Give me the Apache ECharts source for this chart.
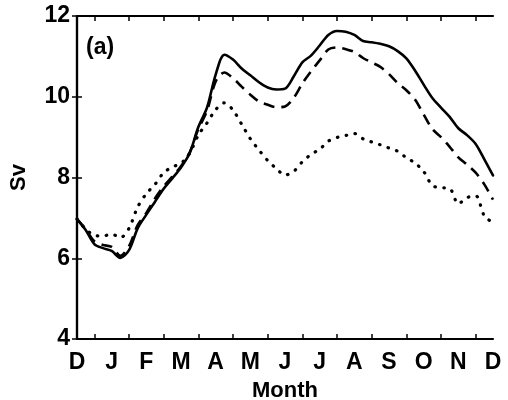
<!DOCTYPE html>
<html>
<head>
<meta charset="utf-8">
<script src="https://cdn.jsdelivr.net/npm/echarts@6/dist/echarts.min.js"></script>
<style>
  html, body { margin: 0; padding: 0; background: #fff; }
  #chart { width: 508px; height: 400px; }
</style>
</head>
<body>
<div id="chart"></div>
<script>
// Month positions (0 = December, 12 = following December), quarter-month steps
const monthPos = [
  0, 0.25, 0.5, 0.75, 1, 1.25, 1.5, 1.75, 2, 2.25, 2.5, 2.75, 3, 3.25, 3.5, 3.75,
  4, 4.25, 4.5, 4.75, 5, 5.25, 5.5, 5.75, 6, 6.25, 6.5, 6.75, 7, 7.25, 7.5, 7.75,
  8, 8.25, 8.5, 8.75, 9, 9.25, 9.5, 9.75, 10, 10.25, 10.5, 10.75, 11, 11.25, 11.5, 11.75, 12
];

// Transport (Sv)
const solidSv = [
  6.97, 6.70, 6.35, 6.25, 6.18, 6.01, 6.20, 6.74, 7.08, 7.40, 7.72, 7.98, 8.25, 8.60, 9.25, 9.73,
  10.55, 11.04, 10.92, 10.70, 10.53, 10.36, 10.23, 10.18, 10.20, 10.50, 10.85, 11.02, 11.27, 11.53, 11.63, 11.61,
  11.53, 11.38, 11.35, 11.31, 11.25, 11.13, 10.95, 10.65, 10.30, 9.97, 9.73, 9.50, 9.22, 9.05, 8.83, 8.45, 8.05
];
const dashedSv = [
  6.97, 6.72, 6.42, 6.33, 6.28, 6.06, 6.30, 6.82, 7.12, 7.48, 7.78, 8.02, 8.28, 8.62, 9.20, 9.65,
  10.38, 10.60, 10.46, 10.25, 10.05, 9.88, 9.80, 9.74, 9.76, 9.97, 10.33, 10.63, 10.90, 11.17, 11.22, 11.18,
  11.11, 10.96, 10.85, 10.74, 10.56, 10.34, 10.16, 9.93, 9.56, 9.20, 9.00, 8.76, 8.50, 8.32, 8.12, 7.83, 7.45
];
const dottedSv = [
  6.97, 6.72, 6.57, 6.55, 6.60, 6.51, 6.74, 7.27, 7.60, 7.83, 8.12, 8.26, 8.35, 8.60, 9.05, 9.35,
  9.68, 9.85, 9.67, 9.32, 8.96, 8.68, 8.42, 8.22, 8.06, 8.15, 8.39, 8.57, 8.70, 8.90, 8.99, 9.04,
  9.09, 8.96, 8.88, 8.81, 8.73, 8.65, 8.49, 8.36, 8.15, 7.80, 7.75, 7.73, 7.35, 7.50, 7.55, 7.05, 6.88
];

const monthLabels = ['D', 'J', 'F', 'M', 'A', 'M', 'J', 'J', 'A', 'S', 'O', 'N', 'D'];
const yTicks = [4, 6, 8, 10, 12];

const FONT = 'Liberation Sans, Arial, sans-serif';
const pair = (vals) => monthPos.map((m, i) => [m, vals[i]]);

const frameLine = { show: true, lineStyle: { color: '#000', width: 2.2 } };
const tickStyle = { color: '#000', width: 1.5 };

const chart = echarts.init(document.getElementById('chart'), null, { renderer: 'canvas' });

chart.setOption({
  animation: false,
  backgroundColor: '#fff',
  title: {
    text: '(a)',
    left: 81,
    top: 31,
    textStyle: { fontFamily: FONT, fontSize: 23, fontWeight: 'bold', color: '#000' }
  },
  grid: {
    left: 77, right: 15, top: 16, bottom: 61,
    containLabel: false, outerBoundsMode: 'none'
  },
  xAxis: [
    {
      type: 'value', min: 0, max: 12, interval: 1,
      axisLine: frameLine,
      axisTick: { show: false, inside: true },
      minorTick: { show: true, splitNumber: 2, length: 5, lineStyle: tickStyle },
      splitLine: { show: false },
      axisLabel: {
        margin: 12, color: '#000', fontFamily: FONT, fontSize: 23, fontWeight: 'bold',
        showMinLabel: true, showMaxLabel: true,
        formatter: (v) => monthLabels[Math.round(v)]
      },
      name: 'Month', nameLocation: 'middle', nameGap: 41,
      nameTextStyle: { color: '#000', fontFamily: FONT, fontSize: 22, fontWeight: 'bold' }
    },
    {
      type: 'value', position: 'top', min: 0, max: 12, interval: 1,
      axisLine: frameLine,
      axisTick: { show: false, inside: true },
      minorTick: { show: true, splitNumber: 2, length: 5, lineStyle: tickStyle },
      splitLine: { show: false },
      axisLabel: { show: false }
    }
  ],
  yAxis: [
    {
      type: 'value', min: yTicks[0], max: yTicks[yTicks.length - 1], interval: 2,
      axisLine: frameLine,
      axisTick: { show: true, inside: true, length: 5, lineStyle: tickStyle },
      splitLine: { show: false },
      axisLabel: {
        margin: 7, color: '#000', fontFamily: FONT, fontSize: 23, fontWeight: 'bold',
        padding: [8, 0, 0, 0]
      },
      name: 'Sv', nameLocation: 'middle', nameGap: 47, nameRotate: 90,
      nameTextStyle: { color: '#000', fontFamily: FONT, fontSize: 22, fontWeight: 'bold' }
    },
    {
      type: 'value', position: 'right', min: yTicks[0], max: yTicks[yTicks.length - 1], interval: 2,
      axisLine: frameLine,
      axisTick: { show: true, inside: true, length: 5, lineStyle: tickStyle },
      splitLine: { show: false },
      axisLabel: { show: false }
    }
  ],
  series: [
    {
      name: 'solid', type: 'line', data: pair(solidSv), smooth: 0.3, symbol: 'none',
      lineStyle: { color: '#000', width: 2.6, cap: 'round', join: 'round' }
    },
    {
      name: 'dashed', type: 'line', data: pair(dashedSv), smooth: 0.3, symbol: 'none',
      lineStyle: { color: '#000', width: 2.6, type: [11, 7] }
    },
    {
      name: 'dotted', type: 'line', data: pair(dottedSv), smooth: 0.3, symbol: 'none',
      lineStyle: { color: '#000', width: 3.2, type: [0.5, 8.5], cap: 'round' }
    }
  ]
});
</script>
</body>
</html>
